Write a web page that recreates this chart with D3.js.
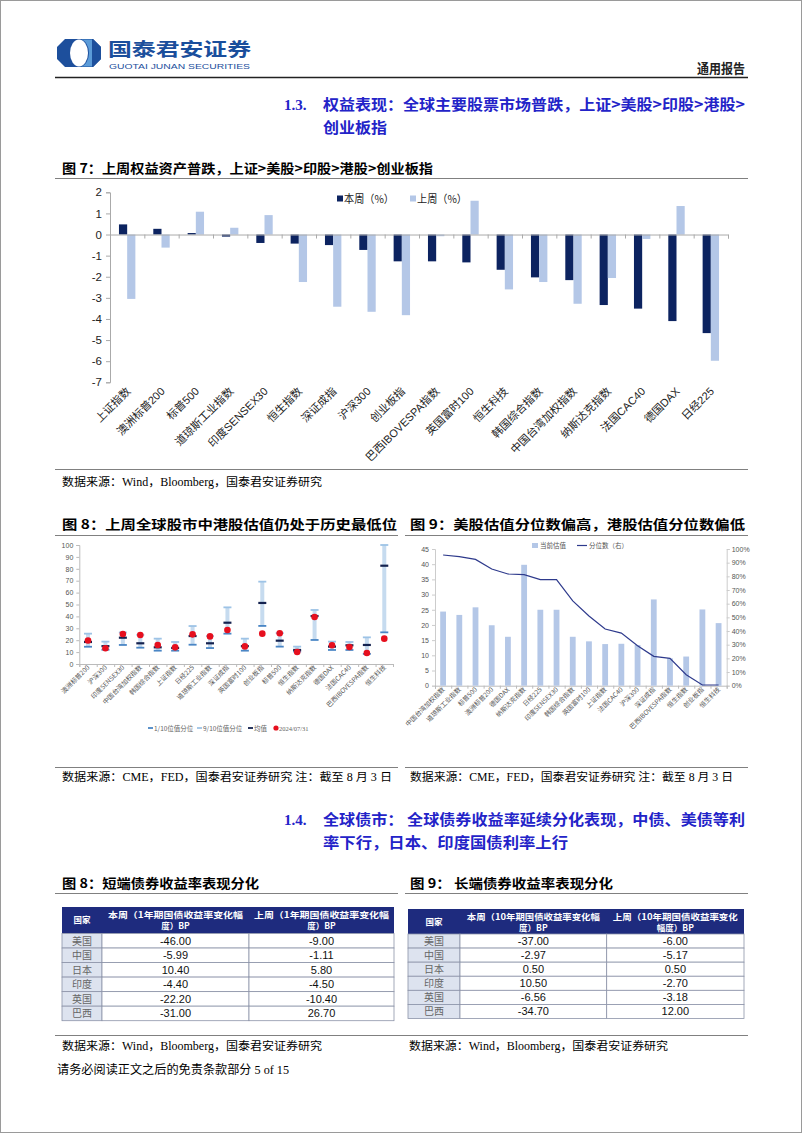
<!DOCTYPE html>
<html><head><meta charset="utf-8">
<script src="https://cdn.jsdelivr.net/npm/d3@7"></script>
<style>body{margin:0;background:#fff}</style>
</head><body><svg id="page" width="802" height="1133"></svg>
<script>
// ---------------- DATA ----------------
const eqCategories = ["上证指数","澳洲标普200","标普500","道琼斯工业指数","印度SENSEX30","恒生指数","深证成指","沪深300","创业板指","巴西IBOVESPA指数","英国富时100","恒生科技","韩国综合指数","中国台湾加权指数","纳斯达克指数","法国CAC40","德国DAX","日经225"];
const eqThisWeek = [0.48,0.27,0.07,-0.10,-0.40,-0.43,-0.50,-0.73,-1.27,-1.27,-1.32,-1.67,-2.03,-2.16,-3.34,-3.51,-4.10,-4.67];
const eqLastWeek = [-3.05,-0.62,1.08,0.32,0.92,-2.25,-3.42,-3.66,-3.82,-0.08,1.60,-2.60,-2.25,-3.28,-2.06,-0.21,1.35,-5.98];
const eqYTicks = [2,1,0,-1,-2,-3,-4,-5,-6,-7];
const eqSeries = ["本周（%）","上周（%）"];

const valCategories = ["澳洲标普200","沪深300","印度SENSEX30","中国台湾加权指数","韩国综合指数","上证指数","日经225","道琼斯工业指数","深证成指","英国富时100","创业板指","标普500","恒生指数","纳斯达克指数","德国DAX","法国CAC40","巴西IBOVESPA指数","恒生科技"];
const valP10  = [14.5,12.0,16.0,13.7,11.2,11.2,16.2,13.4,25.5,11.2,32.0,14.6,10.5,20.2,11.8,11.8,8.5,26.6];
const valP90  = [25.5,18.8,26.5,24.5,21.3,18.5,31.9,23.5,47.6,21.3,69.2,26.0,14.6,45.4,18.8,18.5,22.4,100];
const valMean = [18.5,15.0,22.1,17.4,14.0,13.5,23.5,17.4,34.7,15.0,51.3,19.6,11.8,40.3,14.6,15.7,16.0,82.6];
const valNow  = [19.8,13.2,25.2,24.4,16.0,14.0,24.9,23.2,28.6,14.8,25.5,25.8,10.1,39.5,15.7,14.3,9.2,21.3];
const valYTicks = [0,10,20,30,40,50,60,70,80,90,100];
const valLegend = ["1/10位值分位","9/10位值分位","均值","2024/07/31"];

const pctCategories = ["中国台湾加权指数","道琼斯工业指数","标普500","澳洲标普200","德国DAX","纳斯达克指数","日经225","印度SENSEX30","韩国综合指数","英国富时100","上证指数","法国CAC40","沪深300","深证成指","巴西IBOVESPA指数","恒生指数","创业板指","恒生科技"];
const pctValue = [24.4,23.3,25.8,19.9,16.1,39.8,25.0,25.0,16.1,14.6,13.7,13.8,13.4,28.4,9.0,9.6,25.1,20.6];
const pctRank  = [0.956,0.944,0.924,0.854,0.817,0.812,0.776,0.776,0.620,0.510,0.415,0.385,0.293,0.215,0.200,0.080,0.005,0.005];
const pctLeftTicks = [0,5,10,15,20,25,30,35,40,45];
const pctRightTicks = [0,0.1,0.2,0.3,0.4,0.5,0.6,0.7,0.8,0.9,1.0];
const pctLegend = ["当前估值","分位数（右）"];

const bondCountries = ["美国","中国","日本","印度","英国","巴西"];
const short1yThis = [-46.00,-5.99,10.40,-4.40,-22.20,-31.00];
const short1yLast = [-9.00,-1.11,5.80,-4.50,-10.40,26.70];
const long10yThis = [-37.00,-2.97,0.50,10.50,-6.56,-34.70];
const long10yLast = [-6.00,-5.17,0.50,-2.70,-3.18,12.00];
const shortHeaders = [["国家"],["本周（1年期国债收益率变化幅","度）BP"],["上周（1年期国债收益率变化幅","度）BP"]];
const longHeaders = [["国家"],["本周（10年期国债收益率变化幅","度）BP"],["上周（10年期国债收益率变化","幅度）BP"]];

// ---------------- DRAWING ----------------
const SERIF = "'Liberation Serif','Noto Sans CJK SC',serif";
const SANS = "'Liberation Sans','Noto Sans CJK SC',sans-serif";
const CJK = "'Noto Sans CJK SC','Liberation Sans',sans-serif";
const svg = d3.select("#page");
svg.append("rect").attr("x",0.5).attr("y",0.5).attr("width",801).attr("height",1132)
  .attr("fill","#fff").attr("stroke","#9a9a9a");

function txt(g,x,y,s,o={}){
  const t=g.append("text").attr("x",x).attr("y",y).text(s)
    .attr("font-size",o.size||12).attr("fill",o.fill||"#000")
    .attr("font-family",o.family||SERIF).attr("font-weight",o.weight||"normal")
    .attr("text-anchor",o.anchor||"start");
  if(o.len) t.attr("textLength",o.len).attr("lengthAdjust","spacingAndGlyphs");
  return t;
}
function hline(x1,x2,y,c,w){svg.append("line").attr("x1",x1).attr("x2",x2).attr("y1",y).attr("y2",y).attr("stroke",c).attr("stroke-width",w);}

// header
const lx0=57,lx1=101,ly0=39,ly1=67,cc=8;
svg.append("path").attr("d",`M${lx0+cc},${ly0}L${lx1-cc},${ly0}L${lx1},${ly0+cc}L${lx1},${ly1-cc}L${lx1-cc},${ly1}L${lx0+cc},${ly1}L${lx0},${ly1-cc}L${lx0},${ly0+cc}Z`).attr("fill","#1d4f9c");
svg.append("ellipse").attr("cx",79).attr("cy",53).attr("rx",9).attr("ry",13.5).attr("fill","#fff");
svg.append("path").attr("d","M80,39.5 A9,13.5 0 0 1 80,66.5 L92,66.5 L92,39.5Z").attr("fill","#5b9bd8");
svg.append("path").attr("d",`M92,39.5L${lx1-cc},${ly0}L${lx1},${ly0+cc}L${lx1},${ly1-cc}L${lx1-cc},${ly1}L92,66.5Z`).attr("fill","#1d4f9c");
txt(svg,108,56,"国泰君安证券",{size:18,weight:"bold",family:CJK,fill:"#1a4e9c",len:143});
txt(svg,109,68.5,"GUOTAI JUNAN SECURITIES",{size:8,family:SANS,fill:"#1a4e9c",len:141});
txt(svg,697,73,"通用报告",{size:13,weight:"bold",family:CJK,fill:"#222",len:48});
hline(55,748,77.5,"#222",1.5);

// section 1.3
const BLUE="#2323c8";
txt(svg,284,110,"1.3.",{size:15,weight:"bold",fill:BLUE});
txt(svg,323,110,"权益表现：全球主要股票市场普跌，上证>美股>印股>港股>",{size:15,weight:"bold",fill:BLUE,family:CJK,len:422});
txt(svg,323,133,"创业板指",{size:15,weight:"bold",fill:BLUE,family:CJK,len:64});

// fig 7 title
txt(svg,62,173,"图 7：上周权益资产普跌，上证>美股>印股>港股>创业板指",{size:13,weight:"bold",family:CJK,len:371});
hline(55,748,178.5,"#808080",1);

// ---- Fig 7 chart ----
const x7 = d3.scaleBand().domain(eqCategories).range([110,728]);
const bw7 = x7.bandwidth();
const xs7 = d3.scaleBand().domain(eqSeries).range([bw7/2-8.2, bw7/2+8.2]);
const y7 = d3.scaleLinear().domain([-7,2]).range([382.3,192.3]);
const col7 = {"本周（%）":"#0c2360","上周（%）":"#b4c7e7"};
const g7 = svg.append("g");
const rows7 = eqCategories.map((c,i)=>({c, vals:[{s:eqSeries[0],v:eqThisWeek[i]},{s:eqSeries[1],v:eqLastWeek[i]}]}));
g7.selectAll("g.grp").data(rows7).join("g").attr("transform",d=>`translate(${x7(d.c)},0)`)
  .selectAll("rect").data(d=>d.vals).join("rect")
  .attr("x",d=>xs7(d.s)).attr("width",xs7.bandwidth())
  .attr("y",d=>y7(Math.max(0,d.v))).attr("height",d=>Math.abs(y7(d.v)-y7(0)))
  .attr("fill",d=>col7[d.s]);
const ya7 = g7.append("g").attr("transform","translate(110,0)")
  .call(d3.axisLeft(y7).tickValues(eqYTicks).tickSize(4).tickPadding(4).tickFormat(d=>String(d)));
ya7.selectAll("text").attr("font-size",11.5).attr("font-family",SANS).attr("fill","#222");
ya7.selectAll("path,line").attr("stroke","#aaa");
const idx7 = d3.scaleLinear().domain([0,eqCategories.length]).range([110,728]);
const xa7 = g7.append("g").attr("transform",`translate(0,${y7(0)})`)
  .call(d3.axisBottom(idx7).tickValues(d3.range(eqCategories.length+1)).tickSize(4).tickFormat(""));
xa7.selectAll("path,line").attr("stroke","#aaa");
g7.selectAll("text.xl").data(eqCategories).join("text").attr("class","xl")
  .attr("transform",d=>`translate(${x7(d)+bw7/2+4},${392}) rotate(-45)`)
  .attr("text-anchor","end").attr("font-size",11).attr("font-family",SANS).attr("fill","#222").text(d=>d);
// legend
eqSeries.forEach((s,i)=>{
  const lx=[337,410][i];
  g7.append("rect").attr("x",lx).attr("y",195.5).attr("width",6).attr("height",6).attr("fill",col7[s]);
  txt(g7,lx+7,203,s,{size:11,family:CJK,fill:"#222",len:50});
});

// fig 7 source
hline(55,748,469.5,"#808080",1);
txt(svg,62,486,"数据来源：Wind，Bloomberg，国泰君安证券研究",{size:11.5,len:260});

// fig 8/9 titles
txt(svg,62,529,"图 8：上周全球股市中港股估值仍处于历史最低位",{size:13,weight:"bold",family:CJK,len:335});
txt(svg,410,529,"图 9：美股估值分位数偏高，港股估值分位数偏低",{size:13,weight:"bold",family:CJK,len:335});
hline(55,398,535.5,"#808080",1);
hline(405,748,535.5,"#808080",1);

// ---- Fig 8 chart ----
const g8 = svg.append("g");
const x8 = d3.scaleBand().domain(valCategories).range([79.3,393]);
const bw8 = x8.bandwidth();
const y8 = d3.scaleLinear().domain([0,100]).range([664,545]);
const rows8 = valCategories.map((c,i)=>({c,p10:valP10[i],p90:valP90[i],m:valMean[i],n:valNow[i]}));
const ya8 = g8.append("g").attr("transform","translate(79.3,0)")
  .call(d3.axisLeft(y8).tickValues(valYTicks).tickSize(3).tickPadding(3));
ya8.selectAll("text").attr("font-size",7).attr("font-family",SANS).attr("fill","#555");
ya8.selectAll("path,line").attr("stroke","#bbb");
const idx8 = d3.scaleLinear().domain([0,valCategories.length]).range([79.3,393]);
const xa8 = g8.append("g").attr("transform","translate(0,664)")
  .call(d3.axisBottom(idx8).tickValues(d3.range(valCategories.length+1)).tickSize(3).tickFormat(""));
xa8.selectAll("path,line").attr("stroke","#bbb");
const cg8 = g8.selectAll("g.c").data(rows8).join("g").attr("transform",d=>`translate(${x8(d.c)+bw8/2},0)`);
cg8.append("rect").attr("x",-2).attr("width",4).attr("y",d=>y8(d.p90)).attr("height",d=>y8(d.p10)-y8(d.p90)).attr("fill","#c6dbef");
cg8.append("line").attr("x1",-4).attr("x2",4).attr("y1",d=>y8(d.p90)).attr("y2",d=>y8(d.p90)).attr("stroke","#9dc3e6").attr("stroke-width",1.8);
cg8.append("line").attr("x1",-4).attr("x2",4).attr("y1",d=>y8(d.p10)).attr("y2",d=>y8(d.p10)).attr("stroke","#4a86c5").attr("stroke-width",1.8);
cg8.append("line").attr("x1",-4).attr("x2",4).attr("y1",d=>y8(d.m)).attr("y2",d=>y8(d.m)).attr("stroke","#14224f").attr("stroke-width",2.2);
cg8.append("circle").attr("cx",0).attr("cy",d=>y8(d.n)).attr("r",3.3).attr("fill","#e60f1e");
g8.selectAll("text.xl").data(valCategories).join("text").attr("class","xl")
  .attr("transform",d=>`translate(${x8(d)+bw8/2+2},${668}) rotate(-45)`)
  .attr("text-anchor","end").attr("font-size",6.5).attr("font-family",CJK).attr("fill","#555").text(d=>d);
// legend 8
const lg8 = [{x:148,t:valLegend[0],c:"#4a86c5"},{x:197,t:valLegend[1],c:"#9dc3e6"},{x:248,t:valLegend[2],c:"#14224f"}];
lg8.forEach(d=>{
  g8.append("line").attr("x1",d.x).attr("x2",d.x+5).attr("y1",728).attr("y2",728).attr("stroke",d.c).attr("stroke-width",1.8);
  txt(g8,d.x+6,730.5,d.t,{size:6.5,family:CJK,fill:"#666"});
});
g8.append("circle").attr("cx",276).attr("cy",728).attr("r",2.6).attr("fill","#e60f1e");
txt(g8,279,730.5,valLegend[3],{size:6.5,family:SERIF,fill:"#666"});

// ---- Fig 9 chart ----
const g9 = svg.append("g");
const x9 = d3.scaleBand().domain(pctCategories).range([435,726.7]);
const bw9 = x9.bandwidth();
const y9 = d3.scaleLinear().domain([0,45]).range([685.7,549]);
const y9r = d3.scaleLinear().domain([0,1]).range([685.7,549]);
const ya9 = g9.append("g").attr("transform","translate(435,0)")
  .call(d3.axisLeft(y9).tickValues(pctLeftTicks).tickSize(3).tickPadding(3));
ya9.selectAll("text").attr("font-size",7).attr("font-family",SANS).attr("fill","#555");
ya9.selectAll("path,line").attr("stroke","#ccc");
const yr9 = g9.append("g").attr("transform","translate(726.7,0)")
  .call(d3.axisRight(y9r).tickValues(pctRightTicks).tickSize(3).tickPadding(2).tickFormat(d3.format(".0%")));
yr9.selectAll("text").attr("font-size",7).attr("font-family",SANS).attr("fill","#555");
yr9.selectAll("path,line").attr("stroke","#ccc");
const idx9 = d3.scaleLinear().domain([0,pctCategories.length]).range([435,726.7]);
const xa9 = g9.append("g").attr("transform","translate(0,685.7)")
  .call(d3.axisBottom(idx9).tickValues(d3.range(pctCategories.length+1)).tickSize(3).tickFormat(""));
xa9.selectAll("path,line").attr("stroke","#bbb");
g9.selectAll("rect.b").data(pctCategories).join("rect").attr("class","b")
  .attr("x",d=>x9(d)+bw9/2-2.9).attr("width",5.8)
  .attr("y",(d,i)=>y9(pctValue[i])).attr("height",(d,i)=>y9(0)-y9(pctValue[i])).attr("fill","#b4c7e7");
g9.append("path").datum(pctCategories)
  .attr("d",d3.line().x(d=>x9(d)+bw9/2).y((d,i)=>y9r(pctRank[i])))
  .attr("fill","none").attr("stroke","#2e3a8c").attr("stroke-width",1.2);
g9.selectAll("text.xl").data(pctCategories).join("text").attr("class","xl")
  .attr("transform",d=>`translate(${x9(d)+bw9/2+2},${690}) rotate(-45)`)
  .attr("text-anchor","end").attr("font-size",6.5).attr("font-family",CJK).attr("fill","#555").text(d=>d);
g9.append("rect").attr("x",532).attr("y",543).attr("width",6).attr("height",5).attr("fill","#b4c7e7");
txt(g9,540,548,pctLegend[0],{size:6.5,family:CJK,fill:"#555"});
g9.append("line").attr("x1",577).attr("x2",587).attr("y1",545.5).attr("y2",545.5).attr("stroke","#2e3a8c").attr("stroke-width",1.2);
txt(g9,589,548,pctLegend[1],{size:6.5,family:CJK,fill:"#555"});

// fig 8/9 sources
hline(55,398,767.5,"#808080",1);
hline(405,748,767.5,"#808080",1);
txt(svg,62,781,"数据来源：CME，FED，国泰君安证券研究  注：截至 8 月 3 日",{size:11.5,len:330});
txt(svg,410,781,"数据来源：CME，FED，国泰君安证券研究  注：截至 8 月 3 日",{size:11.5,len:323});

// section 1.4
txt(svg,284,825,"1.4.",{size:15,weight:"bold",fill:BLUE});
txt(svg,323,825,"全球债市：  全球债券收益率延续分化表现，中债、美债等利",{size:15,weight:"bold",fill:BLUE,family:CJK,len:422});
txt(svg,323,848,"率下行，日本、印度国债利率上行",{size:15,weight:"bold",fill:BLUE,family:CJK,len:245});

// table titles
txt(svg,62,888,"图 8：短端债券收益率表现分化",{size:13,weight:"bold",family:CJK,len:197});
txt(svg,410,888,"图 9：  长端债券收益率表现分化",{size:13,weight:"bold",family:CJK,len:203});
hline(55,398,893.5,"#808080",1);
hline(405,748,893.5,"#808080",1);

// tables
function drawTable(cols, top, headH, bottom, headers, headLens, c1, c2){
  const g = svg.append("g");
  const rowY = d3.scaleBand().domain(bondCountries).range([top+headH,bottom]);
  g.append("rect").attr("x",cols[0]).attr("y",top).attr("width",cols[3]-cols[0]).attr("height",headH).attr("fill","#1e2b7e");
  headers.forEach((lines,ci)=>{
    const cx=(cols[ci]+cols[ci+1])/2;
    lines.forEach((l,li)=>{
      const yy = lines.length===1 ? top+headH/2+3 : top+10.5+li*11.5;
      const o = {size:8.5,weight:"bold",family:CJK,fill:"#fff",anchor:"middle"};
      if(li===0 && headLens[ci]) o.len = headLens[ci];
      txt(g,cx,yy,l,o);
    });
  });
  bondCountries.forEach((c,i)=>{
    const y0=rowY(c), h=rowY.bandwidth();
    g.append("rect").attr("x",cols[0]).attr("y",y0).attr("width",cols[1]-cols[0]).attr("height",h).attr("fill","#dde3ef").attr("stroke","#8c93a8").attr("stroke-width",0.8);
    g.append("rect").attr("x",cols[1]).attr("y",y0).attr("width",cols[2]-cols[1]).attr("height",h).attr("fill","#fff").attr("stroke","#8c93a8").attr("stroke-width",0.8);
    g.append("rect").attr("x",cols[2]).attr("y",y0).attr("width",cols[3]-cols[2]).attr("height",h).attr("fill","#fff").attr("stroke","#8c93a8").attr("stroke-width",0.8);
    txt(g,(cols[0]+cols[1])/2,y0+h/2+3.8,c,{size:10,family:CJK,fill:"#666",anchor:"middle"});
    txt(g,(cols[1]+cols[2])/2,y0+h/2+4,c1[i].toFixed(2),{size:11,family:SANS,fill:"#111",anchor:"middle"});
    txt(g,(cols[2]+cols[3])/2,y0+h/2+4,c2[i].toFixed(2),{size:11,family:SANS,fill:"#111",anchor:"middle"});
  });
}
drawTable([62,102,249,394],907,26.5,1020.7,shortHeaders,[0,135,135],short1yThis,short1yLast);
drawTable([408,460,606.7,744],909,25,1018.5,longHeaders,[0,133,125],long10yThis,long10yLast);

// bottom sources & footer
hline(55,748,1035.5,"#808080",1);
txt(svg,62,1050,"数据来源：Wind，Bloomberg，国泰君安证券研究",{size:11.5,len:260});
txt(svg,409,1050,"数据来源：Wind，Bloomberg，国泰君安证券研究",{size:11.5,len:259});
txt(svg,57,1074,"请务必阅读正文之后的免责条款部分 5 of 15",{size:12,len:232});
</script></body></html>
